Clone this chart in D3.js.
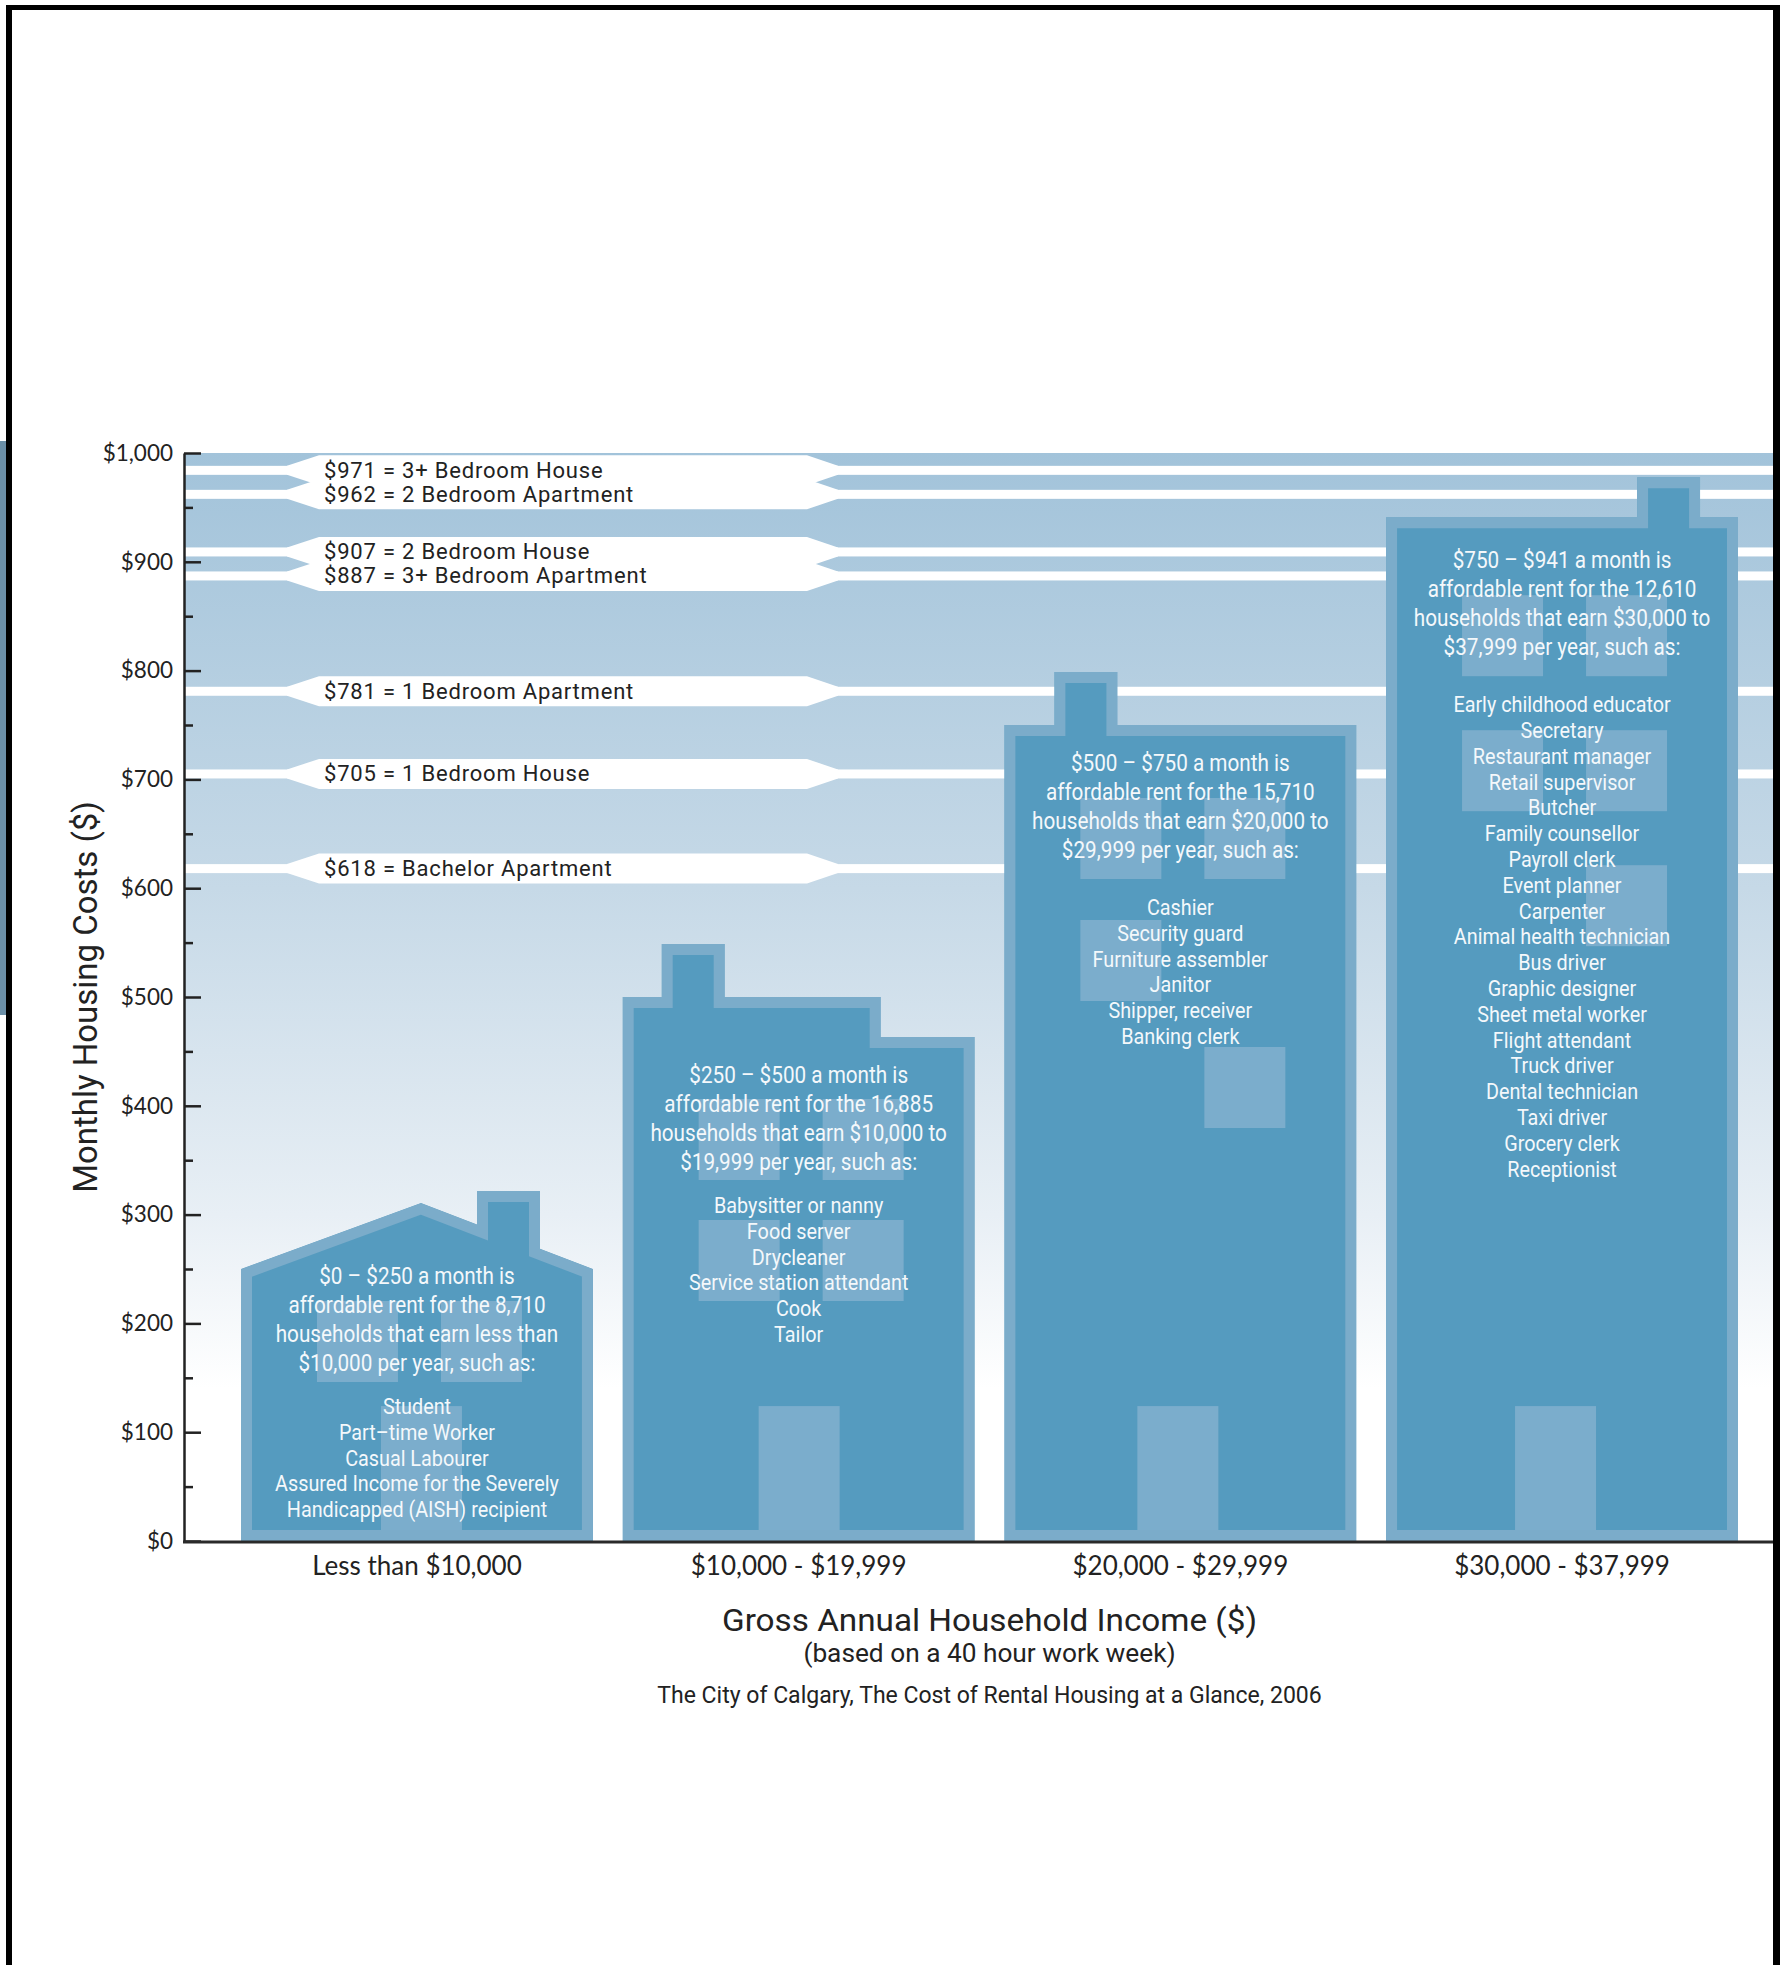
<!DOCTYPE html>
<html lang="en">
<head>
<meta charset="UTF-8">
<title>Affordable rent by gross annual household income</title>
<style>
  body { margin: 0; background: #fff; }
  svg { display: block; }
  .axis .tick text { font-family: Lato, "Open Sans", sans-serif; fill: #222; }
  .axis .tick line { stroke: #222; stroke-width: 2.5px; }
  .axis path.domain { stroke: #222; stroke-width: 2.5px; }
  .cond { font-family: Roboto, "Noto Sans", sans-serif; }
</style>
</head>
<body>
<svg id="chart"></svg>
<script src="https://cdnjs.cloudflare.com/ajax/libs/d3/7.8.5/d3.min.js"></script>
<script>
// ---- data ----
const incomeBands = ["Less than $10,000", "$10,000 - $19,999", "$20,000 - $29,999", "$30,000 - $37,999"];
const rentMin = [0, 250, 500, 750];
const rentMax = [250, 500, 750, 941];
const households = [8710, 16885, 15710, 12610];
const earnFrom = ["less than", "$10,000 to", "$20,000 to", "$30,000 to"];
const earnTo = ["$10,000", "$19,999", "$29,999", "$37,999"];
const occupations = [
  ["Student", "Part–time Worker", "Casual Labourer", "Assured Income for the Severely", "Handicapped (AISH) recipient"],
  ["Babysitter or nanny", "Food server", "Drycleaner", "Service station attendant", "Cook", "Tailor"],
  ["Cashier", "Security guard", "Furniture assembler", "Janitor", "Shipper, receiver", "Banking clerk"],
  ["Early childhood educator", "Secretary", "Restaurant manager", "Retail supervisor", "Butcher",
   "Family counsellor", "Payroll clerk", "Event planner", "Carpenter", "Animal health technician",
   "Bus driver", "Graphic designer", "Sheet metal worker", "Flight attendant", "Truck driver",
   "Dental technician", "Taxi driver", "Grocery clerk", "Receptionist"]
];

const rentValues = [971, 962, 907, 887, 781, 705, 618];
const rentTypes = ["3+ Bedroom House", "2 Bedroom Apartment", "2 Bedroom House", "3+ Bedroom Apartment",
                   "1 Bedroom Apartment", "1 Bedroom House", "Bachelor Apartment"];

const yTicks = d3.range(0, 1001, 100);
const yMinorTicks = d3.range(50, 1000, 100);

const xTitle = "Gross Annual Household Income ($)";
const xSubtitle = "(based on a 40 hour work week)";
const yTitle = "Monthly Housing Costs ($)";
const source = "The City of Calgary, The Cost of Rental Housing at a Glance, 2006";

// ---- layout ----
const width = 1780, height = 1965;
const plot = { left: 184, right: 1774, top: 453, bottom: 1541 };

const BODY = "#559bbf", TRIM = "#7bacca", WIN = "#7badcc";

// decoration per house: chimney offset, roof shape, where the text and windows sit
const houseLayout = [
  { kind: "gable", chimX: 236, chimTop: 78, peakX: 180, peakH: 66, textOff: 15, gap: 43, door: -36,
    windows: [[32, 0], [32, 1]] },
  { kind: "step", chimX: 39, chimTop: 53, stepX: 258, stepDrop: 40, textOff: 86, gap: 43, door: -40,
    windows: [[102, 0], [102, 1], [223, 0], [223, 1]] },
  { kind: "flat", chimX: 50, chimTop: 53, textOff: 46, gap: 57, door: -43,
    windows: [[73, 0], [73, 1], [195, 0], [322, 1]] },
  { kind: "flat", chimX: 251, chimTop: 40, textOff: 51, gap: 57, door: -47,
    windows: [[78, 0], [78, 1], [213, 0], [213, 1], [348, 1]] }
];

const svg = d3.select("#chart").attr("width", width).attr("height", height);
const defs = svg.append("defs");

const x = d3.scaleBand().domain(incomeBands).range([241, 1738]).paddingInner(0.078);
const y = d3.scaleLinear().domain([0, 1000]).range([plot.bottom, plot.top]);

// background gradient
const grad = defs.append("linearGradient").attr("id", "bg")
  .attr("x1", 0).attr("y1", 0).attr("x2", 0).attr("y2", 1);
[[0, "#a2c3da"], [0.4, "#c6d9e7"], [0.7, "#e8eff5"], [0.86, "#ffffff"], [1, "#ffffff"]].forEach(function(s){
  grad.append("stop").attr("offset", s[0]).attr("stop-color", s[1]);
});

svg.append("rect")
  .attr("x", plot.left).attr("y", plot.top)
  .attr("width", plot.right - plot.left).attr("height", plot.bottom - plot.top)
  .attr("fill", "url(#bg)");

// ---- rent reference lines with labels ----
// push labels apart so two close values do not collide
const rentRows = rentValues.map(function(v, i){ return { value: v, type: rentTypes[i] }; })
  .sort(function(a, b){ return a.value - b.value; });
let prevY = Infinity;
rentRows.forEach(function(d){
  d.ly = Math.min(y(d.value), prevY - 24);
  prevY = d.ly;
});

const lineHalf = 4.5, boxHalf = 15;
const bx = [287, 319, 807, 838];
const refG = svg.append("g");
refG.selectAll("rect.ref")
  .data(rentRows)
  .join("rect")
    .attr("class", "ref")
    .attr("x", plot.left).attr("width", plot.right - plot.left)
    .attr("y", function(d){ return d.ly - lineHalf; })
    .attr("height", lineHalf * 2)
    .attr("fill", "#fff");

refG.selectAll("path.box")
  .data(rentRows)
  .join("path")
    .attr("class", "box")
    .attr("fill", "#fff")
    .attr("d", function(d){
      const c = d.ly;
      return d3.line()([
        [bx[0], c - lineHalf], [bx[1], c - boxHalf], [bx[2], c - boxHalf], [bx[3], c - lineHalf],
        [bx[3], c + lineHalf], [bx[2], c + boxHalf], [bx[1], c + boxHalf], [bx[0], c + lineHalf]
      ]) + "Z";
    });

refG.selectAll("text")
  .data(rentRows)
  .join("text")
    .attr("class", "cond")
    .attr("x", 324)
    .attr("y", function(d){ return d.ly + 7.5; })
    .attr("font-size", 22)
    .attr("letter-spacing", 0.8)
    .attr("fill", "#222")
    .text(function(d){ return "$" + d.value + " = " + d.type; });

// ---- houses ----
function housePoints(i){
  const lay = houseLayout[i];
  const L = x(incomeBands[i]), R = L + x.bandwidth();
  const top = y(rentMax[i]), bottom = y(0);
  const cl = L + lay.chimX, cr = cl + 63, ct = top - lay.chimTop;
  if (lay.kind === "gable") {
    const px = L + lay.peakX, py = top - lay.peakH;
    const yAt = function(xx){ return py + (xx - px) * (top - py) / (R - px); };
    return [[L, bottom], [L, top], [px, py], [cl, yAt(cl)], [cl, ct], [cr, ct], [cr, yAt(cr)],
            [R, top], [R, bottom]];
  }
  if (lay.kind === "step") {
    const sx = L + lay.stepX, sy = top + lay.stepDrop;
    return [[L, bottom], [L, top], [cl, top], [cl, ct], [cr, ct], [cr, top], [sx, top], [sx, sy],
            [R, sy], [R, bottom]];
  }
  return [[L, bottom], [L, top], [cl, top], [cl, ct], [cr, ct], [cr, top], [R, top], [R, bottom]];
}

const houses = svg.append("g").selectAll("g.house")
  .data(incomeBands)
  .join("g")
    .attr("class", "house");

houses.each(function(band, i){
  const g = d3.select(this);
  const lay = houseLayout[i];
  const d = d3.line()(housePoints(i)) + "Z";
  const cx = x(band) + x.bandwidth() / 2;
  const top = y(rentMax[i]);

  defs.append("clipPath").attr("id", "clip" + i).append("path").attr("d", d);

  // body with a border drawn inside the outline
  g.append("path")
    .attr("d", d)
    .attr("fill", BODY)
    .attr("stroke", TRIM)
    .attr("stroke-width", 22)
    .attr("clip-path", "url(#clip" + i + ")");

  // windows and door
  g.selectAll("rect.win")
    .data(lay.windows)
    .join("rect")
      .attr("class", "win")
      .attr("x", function(w){ return w[1] === 0 ? cx - 100 : cx + 24; })
      .attr("y", function(w){ return top + w[0]; })
      .attr("width", 81).attr("height", 81)
      .attr("fill", WIN);

  g.append("rect")
    .attr("x", cx + lay.door)
    .attr("y", y(124))
    .attr("width", 81)
    .attr("height", y(0) - 11 - y(124))
    .attr("fill", WIN);

  // text
  const fmt = d3.format(",");
  const heading = [
    "$" + rentMin[i] + " – $" + rentMax[i] + " a month is",
    "affordable rent for the " + fmt(households[i]),
    "households that earn " + earnFrom[i],
    earnTo[i] + " per year, such as:"
  ];
  const t0 = top + lay.textOff;
  const tg = g.append("g").attr("transform", "translate(" + cx + ",0) scale(0.9,1)");
  tg.selectAll("text.head")
    .data(heading)
    .join("text")
      .attr("class", "head cond")
      .attr("x", 0)
      .attr("y", function(s, k){ return t0 + k * 29; })
      .attr("text-anchor", "middle")
      .attr("font-size", 23)
      .attr("fill", "#f4f8fb")
      .text(function(s){ return s; });

  const o0 = t0 + 3 * 29 + lay.gap;
  tg.selectAll("text.occ")
    .data(occupations[i])
    .join("text")
      .attr("class", "occ cond")
      .attr("x", 0)
      .attr("y", function(s, k){ return o0 + k * 25.8; })
      .attr("text-anchor", "middle")
      .attr("font-size", 22)
      .attr("fill", "#f4f8fb")
      .text(function(s){ return s; });
});

// ---- axes ----
const yAxis = svg.append("g")
  .attr("class", "axis")
  .attr("transform", "translate(" + plot.left + ",0)")
  .call(d3.axisLeft(y).tickValues(yTicks).tickSize(-17).tickSizeOuter(0).tickPadding(11)
        .tickFormat(d3.format("$,")));
yAxis.selectAll(".tick text").attr("font-size", 22.5);

svg.append("g")
  .attr("class", "axis")
  .attr("transform", "translate(" + plot.left + ",0)")
  .call(d3.axisLeft(y).tickValues(yMinorTicks).tickSize(-9).tickFormat(""))
  .select(".domain").remove();

svg.append("line")
  .attr("x1", plot.left - 1).attr("x2", plot.right)
  .attr("y1", plot.bottom + 1).attr("y2", plot.bottom + 1)
  .attr("stroke", "#2a2a2a").attr("stroke-width", 3);

const xAxis = svg.append("g")
  .attr("class", "axis")
  .attr("transform", "translate(0," + plot.bottom + ")")
  .call(d3.axisBottom(x).tickSize(0).tickPadding(16));
xAxis.select(".domain").remove();
xAxis.selectAll(".tick text").attr("font-size", 26);

const midX = (x.range()[0] + x.range()[1]) / 2;

svg.append("g").attr("transform", "translate(" + midX + ",0) scale(1.04,1)")
  .append("text")
    .attr("class", "cond").attr("text-anchor", "middle")
    .attr("y", 1631).attr("font-size", 32).attr("fill", "#222")
    .text(xTitle);

svg.append("g").attr("transform", "translate(" + midX + ",0) scale(1.05,1)")
  .append("text")
    .attr("class", "cond").attr("text-anchor", "middle")
    .attr("y", 1662).attr("font-size", 25).attr("fill", "#222")
    .text(xSubtitle);

svg.append("g").attr("transform", "translate(" + midX + ",0) scale(0.98,1)")
  .append("text")
    .attr("class", "cond").attr("text-anchor", "middle")
    .attr("y", 1703).attr("font-size", 23.5).attr("fill", "#222")
    .text(source);

svg.append("text")
  .attr("class", "cond")
  .attr("transform", "translate(97," + ((plot.top + plot.bottom) / 2) + ") rotate(-90) scale(0.97,1)")
  .attr("text-anchor", "middle")
  .attr("font-size", 34)
  .attr("fill", "#222")
  .text(yTitle);

// ---- frame ----
svg.append("rect").attr("x", 0).attr("y", 441).attr("width", 6).attr("height", 574).attr("fill", "#6b8fa7");
svg.append("rect").attr("x", 6).attr("y", 5).attr("width", width - 6).attr("height", 5).attr("fill", "#000");
svg.append("rect").attr("x", 6).attr("y", 5).attr("width", 6).attr("height", height - 5).attr("fill", "#000");
svg.append("rect").attr("x", 1773).attr("y", 5).attr("width", 7).attr("height", height - 5).attr("fill", "#000");
</script>
</body>
</html>
